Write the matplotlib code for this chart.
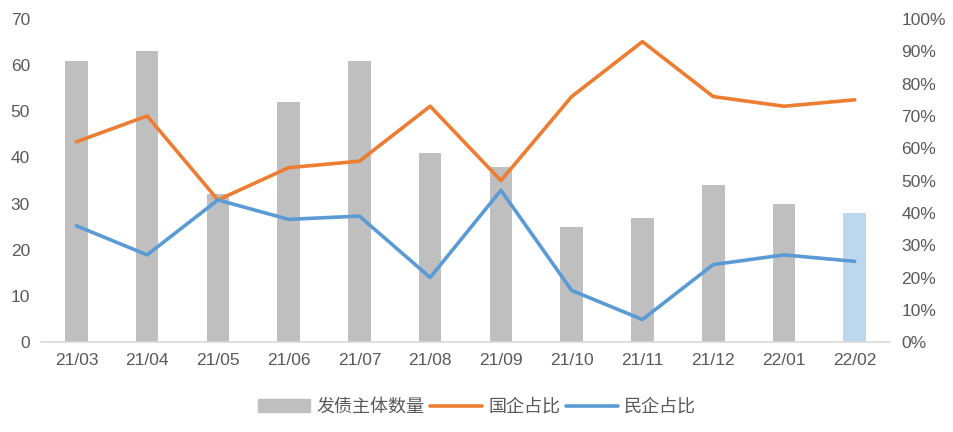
import matplotlib
matplotlib.use("Agg")
from matplotlib import pyplot as plt
from matplotlib.ticker import PercentFormatter
import numpy as np

plt.rcParams["font.family"] = ["Liberation Sans", "Noto Sans CJK SC", "DejaVu Sans"]

months = ["21/03", "21/04", "21/05", "21/06", "21/07", "21/08",
          "21/09", "21/10", "21/11", "21/12", "22/01", "22/02"]
issuers = [61, 63, 32, 52, 61, 41, 38, 25, 27, 34, 30, 28]
soe_share = [62, 70, 44, 54, 56, 73, 50, 76, 93, 76, 73, 75]  # %
private_share = [36, 27, 44, 38, 39, 20, 47, 16, 7, 24, 27, 25]  # %

grey = "#bfbfbf"
light_blue = "#bdd7ee"
orange = "#ed7d31"
blue = "#5b9bd5"
txt = "#595959"

fig = plt.figure(figsize=(9.54, 4.32), dpi=100)
ax = fig.add_axes([0.043, 0.208, 0.890, 0.748])
x = np.arange(len(months))
colors = [grey] * (len(months) - 1) + [light_blue]
bars = ax.bar(x, issuers, width=0.32, color=colors, zorder=2)

ax.set_xlim(-0.5, len(months) - 0.5)
ax.set_ylim(0, 70)
ax.set_yticks(range(0, 71, 10))
ax.set_xticks(x)
ax.set_xticklabels(months)
for s in ["top", "right", "left"]:
    ax.spines[s].set_visible(False)
ax.spines["bottom"].set_color("#d9d9d9")
ax.spines["bottom"].set_linewidth(1.2)
ax.tick_params(axis="both", length=0, labelsize=12.5, colors=txt)
ax.tick_params(axis="x", pad=8)
ax.tick_params(axis="y", pad=8)

ax2 = ax.twinx()
l1, = ax2.plot(x, soe_share, color=orange, lw=2.6, solid_capstyle="round")
l2, = ax2.plot(x, private_share, color=blue, lw=2.6, solid_capstyle="round")
ax2.set_ylim(0, 100)
ax2.set_yticks(range(0, 101, 10))
ax2.yaxis.set_major_formatter(PercentFormatter(decimals=0))
for s in ["top", "right", "left", "bottom"]:
    ax2.spines[s].set_visible(False)
ax2.tick_params(axis="y", length=0, labelsize=12.5, colors=txt, pad=8)

leg_bar = plt.Rectangle((0, 0), 1, 1, color=grey)
fig.legend([leg_bar, l1, l2], ["发债主体数量", "国企占比", "民企占比"],
           loc="center", bbox_to_anchor=(0.5, 0.058), ncol=3, frameon=False,
           prop={"family": ["Noto Sans CJK SC", "DejaVu Sans"], "size": 13},
           labelcolor=txt, handlelength=2.9, handletextpad=0.33,
           columnspacing=0.3)

fig.savefig("out.png", dpi=100)
